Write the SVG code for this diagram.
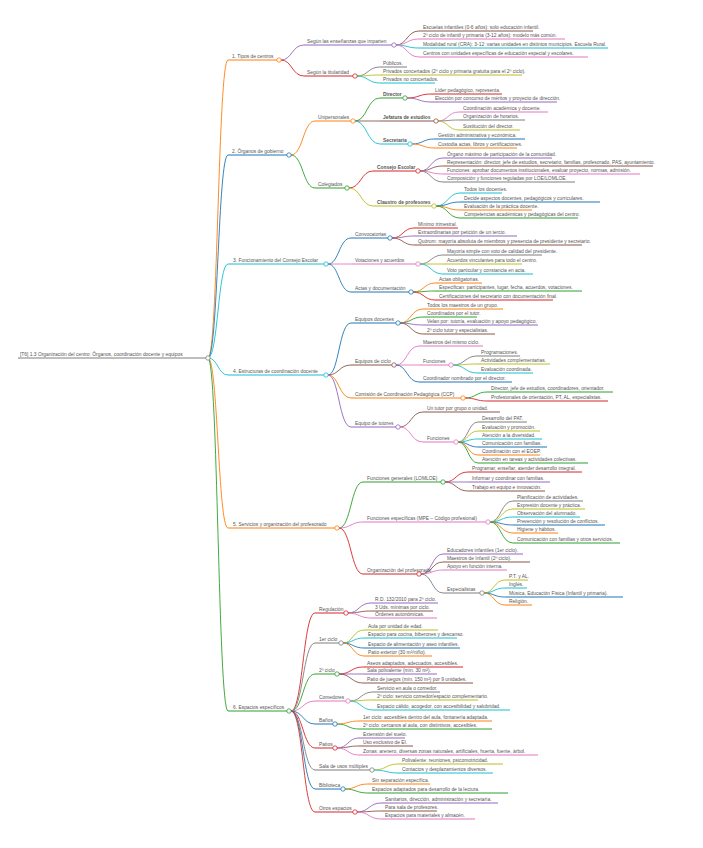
<svg xmlns="http://www.w3.org/2000/svg" width="703" height="848" viewBox="0 0 703 848">
<style>
text{font-family:"Liberation Sans","DejaVu Sans",sans-serif;font-size:4.9px;fill:#555}
.bd{font-weight:bold}
path{fill:none;stroke-width:1}
.lk path{stroke-width:0.9}
circle{fill:#fff;stroke-width:0.8}
.B{stroke:#1f77b4}.O{stroke:#ff7f0e}.G{stroke:#2ca02c}.R{stroke:#d62728}.P{stroke:#9467bd}
.N{stroke:#8c564b}.K{stroke:#e377c2}.Y{stroke:#7f7f7f}.L{stroke:#bcbd22}.C{stroke:#17becf}
</style>
<rect width="703" height="848" fill="#fff"/>
<g id="connectors" class="lk">
<path class="O" d="M208,358 C218,358 218,60 228,60"/>
<path class="B" d="M208,358 C218,358 218,155 228,155"/>
<path class="C" d="M208,358 C218,358 218,264 228,264"/>
<path class="C" d="M208,358 C218,358 218,375 228,375"/>
<path class="O" d="M208,358 C218,358 218,528 228,528"/>
<path class="G" d="M208,358 C218,358 218,711 228,711"/>
<path class="P" d="M281,60 C292,60 292,45 304,45"/>
<path class="R" d="M281,60 C292,60 292,76 304,76"/>
<path class="N" d="M396,45 C407,45 407,31 419,31"/>
<path class="K" d="M396,45 C407,45 407,39 419,39"/>
<path class="C" d="M396,45 C407,45 407,48 419,48"/>
<path class="K" d="M396,45 C407,45 407,57 419,57"/>
<path class="Y" d="M357,76 C368,76 368,67 380,67"/>
<path class="L" d="M357,76 C368,76 368,75 380,75"/>
<path class="C" d="M357,76 C368,76 368,83 380,83"/>
<path class="O" d="M291,155 C303,155 303,121 315,121"/>
<path class="G" d="M291,155 C303,155 303,188 315,188"/>
<path class="G" d="M355,121 C367,121 367,98 380,98"/>
<path class="N" d="M355,121 C367,121 367,121 380,121"/>
<path class="C" d="M355,121 C367,121 367,144 380,144"/>
<path class="R" d="M407,98 C419,98 419,94 431,94"/>
<path class="P" d="M407,98 C419,98 419,102 431,102"/>
<path class="K" d="M438,121 C448,121 448,112 459,112"/>
<path class="Y" d="M438,121 C448,121 448,120 459,120"/>
<path class="L" d="M438,121 C448,121 448,130 459,130"/>
<path class="B" d="M412,144 C423,144 423,139 434,139"/>
<path class="O" d="M412,144 C423,144 423,148 434,148"/>
<path class="R" d="M349,188 C361,188 361,171 373,171"/>
<path class="L" d="M349,188 C361,188 361,206 373,206"/>
<path class="P" d="M420,171 C431,171 431,158 443,158"/>
<path class="N" d="M420,171 C431,171 431,166 443,166"/>
<path class="K" d="M420,171 C431,171 431,174 443,174"/>
<path class="Y" d="M420,171 C431,171 431,182 443,182"/>
<path class="C" d="M436,206 C448,206 448,193 460,193"/>
<path class="B" d="M436,206 C448,206 448,202 460,202"/>
<path class="O" d="M436,206 C448,206 448,210 460,210"/>
<path class="G" d="M436,206 C448,206 448,218 460,218"/>
<path class="B" d="M328,264 C339,264 339,238 351,238"/>
<path class="K" d="M328,264 C339,264 339,264 351,264"/>
<path class="B" d="M328,264 C339,264 339,292 351,292"/>
<path class="R" d="M392,238 C403,238 403,228 414,228"/>
<path class="P" d="M392,238 C403,238 403,236 414,236"/>
<path class="N" d="M392,238 C403,238 403,245 414,245"/>
<path class="Y" d="M420,264 C431,264 431,255 443,255"/>
<path class="L" d="M420,264 C431,264 431,264 443,264"/>
<path class="C" d="M420,264 C431,264 431,274 443,274"/>
<path class="O" d="M413,292 C424,292 424,283 435,283"/>
<path class="G" d="M413,292 C424,292 424,291 435,291"/>
<path class="R" d="M413,292 C424,292 424,300 435,300"/>
<path class="B" d="M328,375 C339,375 339,323 351,323"/>
<path class="N" d="M328,375 C339,375 339,365 351,365"/>
<path class="O" d="M328,375 C339,375 339,398 351,398"/>
<path class="P" d="M328,375 C339,375 339,427 351,427"/>
<path class="O" d="M400,323 C411,323 411,309 423,309"/>
<path class="G" d="M400,323 C411,323 411,317 423,317"/>
<path class="P" d="M400,323 C411,323 411,325 423,325"/>
<path class="N" d="M400,323 C411,323 411,334 423,334"/>
<path class="K" d="M396,365 C407,365 407,346 419,346"/>
<path class="K" d="M396,365 C407,365 407,365 419,365"/>
<path class="B" d="M396,365 C407,365 407,382 419,382"/>
<path class="Y" d="M453,365 C465,365 465,356 477,356"/>
<path class="L" d="M453,365 C465,365 465,364 477,364"/>
<path class="C" d="M453,365 C465,365 465,373 477,373"/>
<path class="G" d="M465,398 C476,398 476,392 487,392"/>
<path class="R" d="M465,398 C476,398 476,401 487,401"/>
<path class="N" d="M400,427 C411,427 411,412 423,412"/>
<path class="K" d="M400,427 C411,427 411,442 423,442"/>
<path class="Y" d="M458,442 C468,442 468,422 478,422"/>
<path class="L" d="M458,442 C468,442 468,431 478,431"/>
<path class="C" d="M458,442 C468,442 468,439 478,439"/>
<path class="B" d="M458,442 C468,442 468,447 478,447"/>
<path class="O" d="M458,442 C468,442 468,455 478,455"/>
<path class="G" d="M458,442 C468,442 468,463 478,463"/>
<path class="G" d="M339,528 C351,528 351,482 363,482"/>
<path class="K" d="M339,528 C351,528 351,522 363,522"/>
<path class="R" d="M339,528 C351,528 351,574 363,574"/>
<path class="R" d="M445,482 C456,482 456,472 468,472"/>
<path class="P" d="M445,482 C456,482 456,482 468,482"/>
<path class="N" d="M445,482 C456,482 456,491 468,491"/>
<path class="Y" d="M490,522 C501,522 501,501 513,501"/>
<path class="L" d="M490,522 C501,522 501,509 513,509"/>
<path class="C" d="M490,522 C501,522 501,517 513,517"/>
<path class="B" d="M490,522 C501,522 501,525 513,525"/>
<path class="O" d="M490,522 C501,522 501,533 513,533"/>
<path class="G" d="M490,522 C501,522 501,543 513,543"/>
<path class="P" d="M421,574 C432,574 432,554 443,554"/>
<path class="N" d="M421,574 C432,574 432,562 443,562"/>
<path class="K" d="M421,574 C432,574 432,570 443,570"/>
<path class="Y" d="M421,574 C432,574 432,593 443,593"/>
<path class="L" d="M484,593 C494,593 494,580 505,580"/>
<path class="C" d="M484,593 C494,593 494,588 505,588"/>
<path class="B" d="M484,593 C494,593 494,597 505,597"/>
<path class="O" d="M484,593 C494,593 494,605 505,605"/>
<path class="R" d="M291,711 C303,711 303,613 315,613"/>
<path class="Y" d="M291,711 C303,711 303,643 315,643"/>
<path class="G" d="M291,711 C303,711 303,674 315,674"/>
<path class="K" d="M291,711 C303,711 303,701 315,701"/>
<path class="B" d="M291,711 C303,711 303,724 315,724"/>
<path class="R" d="M291,711 C303,711 303,748 315,748"/>
<path class="Y" d="M291,711 C303,711 303,770 315,770"/>
<path class="B" d="M291,711 C303,711 303,789 315,789"/>
<path class="R" d="M291,711 C303,711 303,812 315,812"/>
<path class="P" d="M348,613 C359,613 359,603 371,603"/>
<path class="N" d="M348,613 C359,613 359,611 371,611"/>
<path class="K" d="M348,613 C359,613 359,618 371,618"/>
<path class="L" d="M343,643 C353,643 353,630 364,630"/>
<path class="C" d="M343,643 C353,643 353,638 364,638"/>
<path class="B" d="M343,643 C353,643 353,648 364,648"/>
<path class="O" d="M343,643 C353,643 353,656 364,656"/>
<path class="R" d="M339,674 C351,674 351,667 363,667"/>
<path class="P" d="M339,674 C351,674 351,674 363,674"/>
<path class="N" d="M339,674 C351,674 351,683 363,683"/>
<path class="Y" d="M350,701 C361,701 361,692 373,692"/>
<path class="L" d="M350,701 C361,701 361,700 373,700"/>
<path class="C" d="M350,701 C361,701 361,710 373,710"/>
<path class="O" d="M337,724 C348,724 348,721 359,721"/>
<path class="G" d="M337,724 C348,724 348,729 359,729"/>
<path class="P" d="M337,748 C348,748 348,738 359,738"/>
<path class="N" d="M337,748 C348,748 348,746 359,746"/>
<path class="K" d="M337,748 C348,748 348,755 359,755"/>
<path class="L" d="M374,770 C386,770 386,764 398,764"/>
<path class="C" d="M374,770 C386,770 386,773 398,773"/>
<path class="O" d="M345,789 C356,789 356,784 368,784"/>
<path class="G" d="M345,789 C356,789 356,793 368,793"/>
<path class="P" d="M357,812 C369,812 369,803 381,803"/>
<path class="N" d="M357,812 C369,812 369,811 381,811"/>
<path class="K" d="M357,812 C369,812 369,819 381,819"/>
</g>

<g id="root"><path class="Y" d="M18,358 H206"/><text x="20" y="356.3">[T6] 1.3 Organización del centro: Órganos, coordinación docente y equipos</text><circle class="Y" cx="208" cy="358" r="2.2"/></g>

<g id="s1"><path class="O" d="M228,60 H277"/><text x="232" y="58.3">1. Tipos de centros</text><circle class="O" cx="279" cy="60" r="2.2"/></g>
<g id="s1a"><path class="P" d="M304,45 H392"/><text x="307" y="43.3">Según las enseñanzas que imparten</text><circle class="P" cx="394" cy="45" r="2.2"/></g>
<g id="s1a1"><path class="N" d="M419,31 H533"/><text x="423" y="29.3">Escuelas infantiles (0-6 años): solo educación infantil.</text></g>
<g id="s1a2"><path class="K" d="M419,39 H565"/><text x="423" y="37.3">2º ciclo de infantil y primaria (3-12 años): modelo más común.</text></g>
<g id="s1a3"><path class="C" d="M419,48 H608"/><text x="423" y="46.3">Modalidad rural (CRA): 3-12: varias unidades en distintos municipios. Escuela Rural.</text></g>
<g id="s1a4"><path class="K" d="M419,57 H588"/><text x="423" y="55.3">Centros con unidades específicas de educación especial y escolares.</text></g>
<g id="s1b"><path class="R" d="M304,76 H353"/><text x="307" y="74.3">Según la titularidad</text><circle class="R" cx="355" cy="76" r="2.2"/></g>
<g id="s1b1"><path class="Y" d="M380,67 H407"/><text x="383" y="65.3">Públicos.</text></g>
<g id="s1b2"><path class="L" d="M380,75 H522"/><text x="383" y="73.3">Privados concertados (2º ciclo y primaria gratuita para el 2º ciclo).</text></g>
<g id="s1b3"><path class="C" d="M380,83 H435"/><text x="383" y="81.3">Privados no concertados.</text></g>

<g id="s2"><path class="B" d="M228,155 H287"/><text x="232" y="153.3">2. Órganos de gobierno</text><circle class="B" cx="289" cy="155" r="2.2"/></g>
<g id="s2a"><path class="O" d="M315,121 H351"/><text x="318" y="119.3">Unipersonales</text><circle class="O" cx="353" cy="121" r="2.2"/></g>
<g id="s2a1"><path class="G" d="M380,98 H403"/><text class="bd" x="383" y="96.3">Director</text><circle class="G" cx="405" cy="98" r="2.2"/></g>
<g id="s2a1a"><path class="R" d="M431,94 H502"/><text x="435" y="92.3">Líder pedagógico, representa.</text></g>
<g id="s2a1b"><path class="P" d="M431,102 H557"/><text x="435" y="100.3">Elección por concurso de méritos y proyecto de dirección.</text></g>
<g id="s2a2"><path class="N" d="M380,121 H434"/><text class="bd" x="383" y="119.3">Jefatura de estudios</text><circle class="N" cx="436" cy="121" r="2.2"/></g>
<g id="s2a2a"><path class="K" d="M459,112 H548"/><text x="463" y="110.3">Coordinación académica y docente.</text></g>
<g id="s2a2b"><path class="Y" d="M459,120 H525"/><text x="463" y="118.3">Organización de horarios.</text></g>
<g id="s2a2c"><path class="L" d="M459,130 H520"/><text x="463" y="128.3">Sustitución del director.</text></g>
<g id="s2a3"><path class="C" d="M380,144 H408"/><text class="bd" x="383" y="142.3">Secretaría</text><circle class="C" cx="410" cy="144" r="2.2"/></g>
<g id="s2a3a"><path class="B" d="M434,139 H525"/><text x="438" y="137.3">Gestión administrativa y económica.</text></g>
<g id="s2a3b"><path class="O" d="M434,148 H517"/><text x="438" y="146.3">Custodia actas, libros y certificaciones.</text></g>
<g id="s2b"><path class="G" d="M315,188 H345"/><text x="318" y="186.3">Colegiados</text><circle class="G" cx="347" cy="188" r="2.2"/></g>
<g id="s2b1"><path class="R" d="M373,171 H416"/><text class="bd" x="377" y="169.3">Consejo Escolar</text><circle class="R" cx="418" cy="171" r="2.2"/></g>
<g id="s2b1a"><path class="P" d="M443,158 H552"/><text x="447" y="156.3">Órgano máximo de participación de la comunidad.</text></g>
<g id="s2b1b"><path class="N" d="M443,166 H653"/><text x="447" y="164.3">Representación: director, jefe de estudios, secretario, familias, profesorado, PAS, ayuntamiento.</text></g>
<g id="s2b1c"><path class="K" d="M443,174 H640"/><text x="447" y="172.3">Funciones: aprobar documentos institucionales, evaluar proyecto, normas, admisión.</text></g>
<g id="s2b1d"><path class="Y" d="M443,182 H575"/><text x="447" y="180.3">Composición y funciones reguladas por LOE/LOMLOE.</text></g>
<g id="s2b2"><path class="L" d="M373,206 H432"/><text class="bd" x="377" y="204.3">Claustro de profesores</text><circle class="L" cx="434" cy="206" r="2.2"/></g>
<g id="s2b2a"><path class="C" d="M460,193 H502"/><text x="464" y="191.3">Todos los docentes.</text></g>
<g id="s2b2b"><path class="B" d="M460,202 H600"/><text x="464" y="200.3">Decide aspectos docentes, pedagógicos y curriculares.</text></g>
<g id="s2b2c"><path class="O" d="M460,210 H532"/><text x="464" y="208.3">Evaluación de la práctica docente.</text></g>
<g id="s2b2d"><path class="G" d="M460,218 H578"/><text x="464" y="216.3">Competencias académicas y pedagógicas del centro.</text></g>

<g id="s3"><path class="C" d="M228,264 H324"/><text x="233" y="262.3">3. Funcionamiento del Consejo Escolar</text><circle class="C" cx="326" cy="264" r="2.2"/></g>
<g id="s3a"><path class="B" d="M351,238 H388"/><text x="355" y="236.3">Convocatorias</text><circle class="B" cx="390" cy="238" r="2.2"/></g>
<g id="s3a1"><path class="R" d="M414,228 H458"/><text x="418" y="226.3">Mínimo trimestral.</text></g>
<g id="s3a2"><path class="P" d="M414,236 H517"/><text x="418" y="234.3">Extraordinarias por petición de un tercio.</text></g>
<g id="s3a3"><path class="N" d="M414,245 H582"/><text x="418" y="243.3">Quórum: mayoría absoluta de miembros y presencia de presidente y secretario.</text></g>
<g id="s3b"><path class="K" d="M351,264 H416"/><text x="355" y="262.3">Votaciones y acuerdos</text><circle class="K" cx="418" cy="264" r="2.2"/></g>
<g id="s3b1"><path class="Y" d="M443,255 H542"/><text x="447" y="253.3">Mayoría simple con voto de calidad del presidente.</text></g>
<g id="s3b2"><path class="L" d="M443,264 H522"/><text x="447" y="262.3">Acuerdos vinculantes para todo el centro.</text></g>
<g id="s3b3"><path class="C" d="M443,274 H533"/><text x="447" y="272.3">Voto particular y constancia en acta.</text></g>
<g id="s3c"><path class="B" d="M351,292 H409"/><text x="355" y="290.3">Actas y documentación</text><circle class="B" cx="411" cy="292" r="2.2"/></g>
<g id="s3c1"><path class="O" d="M435,283 H482"/><text x="439" y="281.3">Actas obligatorias.</text></g>
<g id="s3c2"><path class="G" d="M435,291 H582"/><text x="439" y="289.3">Especifican: participantes, lugar, fecha, acuerdos, votaciones.</text></g>
<g id="s3c3"><path class="R" d="M435,300 H553"/><text x="439" y="298.3">Certificaciones del secretario con documentación final.</text></g>

<g id="s4"><path class="C" d="M228,375 H324"/><text x="233" y="373.3">4. Estructuras de coordinación docente</text><circle class="C" cx="326" cy="375" r="2.2"/></g>
<g id="s4a"><path class="B" d="M351,323 H396"/><text x="355" y="321.3">Equipos docentes</text><circle class="B" cx="398" cy="323" r="2.2"/></g>
<g id="s4a1"><path class="O" d="M423,309 H503"/><text x="427" y="307.3">Todos los maestros de un grupo.</text></g>
<g id="s4a2"><path class="G" d="M423,317 H477"/><text x="427" y="315.3">Coordinados por el tutor.</text></g>
<g id="s4a3"><path class="P" d="M423,325 H538"/><text x="427" y="323.3">Velan por: tutoría, evaluación y apoyo pedagógico.</text></g>
<g id="s4a4"><path class="N" d="M423,334 H495"/><text x="427" y="332.3">2º ciclo tutor y especialistas.</text></g>
<g id="s4b"><path class="N" d="M351,365 H392"/><text x="355" y="363.3">Equipos de ciclo</text><circle class="N" cx="394" cy="365" r="2.2"/></g>
<g id="s4b1"><path class="K" d="M419,346 H483"/><text x="423" y="344.3">Maestros del mismo ciclo.</text></g>
<g id="s4b2"><path class="K" d="M419,365 H449"/><text x="423" y="363.3">Funciones</text><circle class="K" cx="451" cy="365" r="2.2"/></g>
<g id="s4b2a"><path class="Y" d="M477,356 H520"/><text x="481" y="354.3">Programaciones.</text></g>
<g id="s4b2b"><path class="L" d="M477,364 H550"/><text x="481" y="362.3">Actividades complementarias.</text></g>
<g id="s4b2c"><path class="C" d="M477,373 H533"/><text x="481" y="371.3">Evaluación coordinada.</text></g>
<g id="s4b3"><path class="B" d="M419,382 H512"/><text x="423" y="380.3">Coordinador nombrado por el director.</text></g>
<g id="s4c"><path class="O" d="M351,398 H461"/><text x="355" y="396.3">Comisión de Coordinación Pedagógica (CCP)</text><circle class="O" cx="463" cy="398" r="2.2"/></g>
<g id="s4c1"><path class="G" d="M487,392 H613"/><text x="491" y="390.3">Director, jefe de estudios, coordinadores, orientador.</text></g>
<g id="s4c2"><path class="R" d="M487,401 H608"/><text x="491" y="399.3">Profesionales de orientación, PT, AL, especialistas.</text></g>
<g id="s4d"><path class="P" d="M351,427 H396"/><text x="355" y="425.3">Equipo de tutores</text><circle class="P" cx="398" cy="427" r="2.2"/></g>
<g id="s4d1"><path class="N" d="M423,412 H500"/><text x="427" y="410.3">Un tutor por grupo o unidad.</text></g>
<g id="s4d2"><path class="K" d="M423,442 H454"/><text x="427" y="440.3">Funciones</text><circle class="K" cx="456" cy="442" r="2.2"/></g>
<g id="s4d2a"><path class="Y" d="M478,422 H527"/><text x="482" y="420.3">Desarrollo del PAT.</text></g>
<g id="s4d2b"><path class="L" d="M478,431 H540"/><text x="482" y="429.3">Evaluación y promoción.</text></g>
<g id="s4d2c"><path class="C" d="M478,439 H542"/><text x="482" y="437.3">Atención a la diversidad.</text></g>
<g id="s4d2d"><path class="B" d="M478,447 H547"/><text x="482" y="445.3">Comunicación con familias.</text></g>
<g id="s4d2e"><path class="O" d="M478,455 H540"/><text x="482" y="453.3">Coordinación con el EOEP.</text></g>
<g id="s4d2f"><path class="G" d="M478,463 H588"/><text x="482" y="461.3">Atención en tareas y actividades colectivas.</text></g>

<g id="s5"><path class="O" d="M228,528 H335"/><text x="233" y="526.3">5. Servicios y organización del profesorado</text><circle class="O" cx="337" cy="528" r="2.2"/></g>
<g id="s5a"><path class="G" d="M363,482 H441"/><text x="367" y="480.3">Funciones generales (LOMLOE)</text><circle class="G" cx="443" cy="482" r="2.2"/></g>
<g id="s5a1"><path class="R" d="M468,472 H582"/><text x="472" y="470.3">Programar, enseñar, atender desarrollo integral.</text></g>
<g id="s5a2"><path class="P" d="M468,482 H550"/><text x="472" y="480.3">Informar y coordinar con familias.</text></g>
<g id="s5a3"><path class="N" d="M468,491 H545"/><text x="472" y="489.3">Trabajo en equipo e innovación.</text></g>
<g id="s5b"><path class="K" d="M363,522 H486"/><text x="367" y="520.3">Funciones específicas (MPE – Código profesional)</text><circle class="K" cx="488" cy="522" r="2.2"/></g>
<g id="s5b1"><path class="Y" d="M513,501 H583"/><text x="517" y="499.3">Planificación de actividades.</text></g>
<g id="s5b2"><path class="L" d="M513,509 H585"/><text x="517" y="507.3">Expresión docente y práctica.</text></g>
<g id="s5b3"><path class="C" d="M513,517 H580"/><text x="517" y="515.3">Observación del alumnado.</text></g>
<g id="s5b4"><path class="B" d="M513,525 H605"/><text x="517" y="523.3">Prevención y resolución de conflictos.</text></g>
<g id="s5b5"><path class="O" d="M513,533 H558"/><text x="517" y="531.3">Higiene y hábitos.</text></g>
<g id="s5b6"><path class="G" d="M513,543 H620"/><text x="517" y="541.3">Comunicación con familias y otros servicios.</text></g>
<g id="s5c"><path class="R" d="M363,574 H417"/><text x="367" y="572.3">Organización del profesorado</text><circle class="R" cx="419" cy="574" r="2.2"/></g>
<g id="s5c1"><path class="P" d="M443,554 H523"/><text x="447" y="552.3">Educadores infantiles (1er ciclo).</text></g>
<g id="s5c2"><path class="N" d="M443,562 H530"/><text x="447" y="560.3">Maestros de Infantil (2º ciclo).</text></g>
<g id="s5c3"><path class="K" d="M443,570 H507"/><text x="447" y="568.3">Apoyo en función interna.</text></g>
<g id="s5c4"><path class="Y" d="M443,593 H480"/><text x="447" y="591.3">Especialistas</text><circle class="Y" cx="482" cy="593" r="2.2"/></g>
<g id="s5c4a"><path class="L" d="M505,580 H528"/><text x="509" y="578.3">P.T. y AL.</text></g>
<g id="s5c4b"><path class="C" d="M505,588 H527"/><text x="509" y="586.3">Inglés.</text></g>
<g id="s5c4c"><path class="B" d="M505,597 H623"/><text x="509" y="595.3">Música, Educación Física (Infantil y primaria).</text></g>
<g id="s5c4d"><path class="O" d="M505,605 H532"/><text x="509" y="603.3">Religión.</text></g>

<g id="s6"><path class="G" d="M228,711 H287"/><text x="233" y="709.3">6. Espacios específicos</text><circle class="G" cx="289" cy="711" r="2.2"/></g>
<g id="s6a"><path class="R" d="M315,613 H344"/><text x="319" y="611.3">Regulación</text><circle class="R" cx="346" cy="613" r="2.2"/></g>
<g id="s6a1"><path class="P" d="M371,603 H438"/><text x="375" y="601.3">R.D. 132/2010 para 2º ciclo.</text></g>
<g id="s6a2"><path class="N" d="M371,611 H433"/><text x="375" y="609.3">3 Uds. mínimas por ciclo.</text></g>
<g id="s6a3"><path class="K" d="M371,618 H437"/><text x="375" y="616.3">Órdenes autonómicas.</text></g>
<g id="s6b"><path class="Y" d="M315,643 H339"/><text x="319" y="641.3">1er ciclo</text><circle class="Y" cx="341" cy="643" r="2.2"/></g>
<g id="s6b1"><path class="L" d="M364,630 H438"/><text x="368" y="628.3">Aula por unidad de edad.</text></g>
<g id="s6b2"><path class="C" d="M364,638 H457"/><text x="368" y="636.3">Espacio para cocina, biberones y descanso.</text></g>
<g id="s6b3"><path class="B" d="M364,648 H460"/><text x="368" y="646.3">Espacio de alimentación y aseo infantiles.</text></g>
<g id="s6b4"><path class="O" d="M364,656 H432"/><text x="368" y="654.3">Patio exterior (30 m²/niño).</text></g>
<g id="s6c"><path class="G" d="M315,674 H335"/><text x="319" y="672.3">2º ciclo</text><circle class="G" cx="337" cy="674" r="2.2"/></g>
<g id="s6c1"><path class="R" d="M363,667 H463"/><text x="367" y="665.3">Aseos adaptados, adecuados, accesibles.</text></g>
<g id="s6c2"><path class="P" d="M363,674 H437"/><text x="367" y="672.3">Sala polivalente (mín. 30 m²).</text></g>
<g id="s6c3"><path class="N" d="M363,683 H473"/><text x="367" y="681.3">Patio de juegos (mín. 150 m²) por 9 unidades.</text></g>
<g id="s6d"><path class="K" d="M315,701 H346"/><text x="319" y="699.3">Comedores</text><circle class="K" cx="348" cy="701" r="2.2"/></g>
<g id="s6d1"><path class="Y" d="M373,692 H440"/><text x="377" y="690.3">Servicio en aula o comedor.</text></g>
<g id="s6d2"><path class="L" d="M373,700 H478"/><text x="377" y="698.3">2º ciclo: servicio comedor/espacio complementario.</text></g>
<g id="s6d3"><path class="C" d="M373,710 H510"/><text x="377" y="708.3">Espacio cálido, acogedor, con accesibilidad y salubridad.</text></g>
<g id="s6e"><path class="B" d="M315,724 H333"/><text x="319" y="722.3">Baños</text><circle class="B" cx="335" cy="724" r="2.2"/></g>
<g id="s6e1"><path class="O" d="M359,721 H492"/><text x="363" y="719.3">1er ciclo: accesibles dentro del aula, fontanería adaptada.</text></g>
<g id="s6e2"><path class="G" d="M359,729 H492"/><text x="363" y="727.3">2º ciclo: cercanos al aula, con distintivos, accesibles.</text></g>
<g id="s6f"><path class="R" d="M315,748 H333"/><text x="319" y="746.3">Patios</text><circle class="R" cx="335" cy="748" r="2.2"/></g>
<g id="s6f1"><path class="P" d="M359,738 H405"/><text x="363" y="736.3">Extensión del suelo.</text></g>
<g id="s6f2"><path class="N" d="M359,746 H413"/><text x="363" y="744.3">Uso exclusivo de EI.</text></g>
<g id="s6f3"><path class="K" d="M359,755 H538"/><text x="363" y="753.3">Zonas: arenero, diversas zonas naturales, artificiales, huerta, fuente, árbol.</text></g>
<g id="s6g"><path class="Y" d="M315,770 H370"/><text x="319" y="768.3">Sala de usos múltiples</text><circle class="Y" cx="372" cy="770" r="2.2"/></g>
<g id="s6g1"><path class="L" d="M398,764 H503"/><text x="402" y="762.3">Polivalente: reuniones, psicomotricidad.</text></g>
<g id="s6g2"><path class="C" d="M398,773 H493"/><text x="402" y="771.3">Contactos y desplazamientos diversos.</text></g>
<g id="s6h"><path class="B" d="M315,789 H341"/><text x="319" y="787.3">Biblioteca</text><circle class="B" cx="343" cy="789" r="2.2"/></g>
<g id="s6h1"><path class="O" d="M368,784 H430"/><text x="372" y="782.3">Sin separación específica.</text></g>
<g id="s6h2"><path class="G" d="M368,793 H508"/><text x="372" y="791.3">Espacios adaptados para desarrollo de la lectura.</text></g>
<g id="s6i"><path class="R" d="M315,812 H353"/><text x="319" y="810.3">Otros espacios</text><circle class="R" cx="355" cy="812" r="2.2"/></g>
<g id="s6i1"><path class="P" d="M381,803 H498"/><text x="385" y="801.3">Sanitarios, dirección, administración y secretaría.</text></g>
<g id="s6i2"><path class="N" d="M381,811 H437"/><text x="385" y="809.3">Para sala de profesores.</text></g>
<g id="s6i3"><path class="K" d="M381,819 H475"/><text x="385" y="817.3">Espacios para materiales y almacén.</text></g>
</svg>
